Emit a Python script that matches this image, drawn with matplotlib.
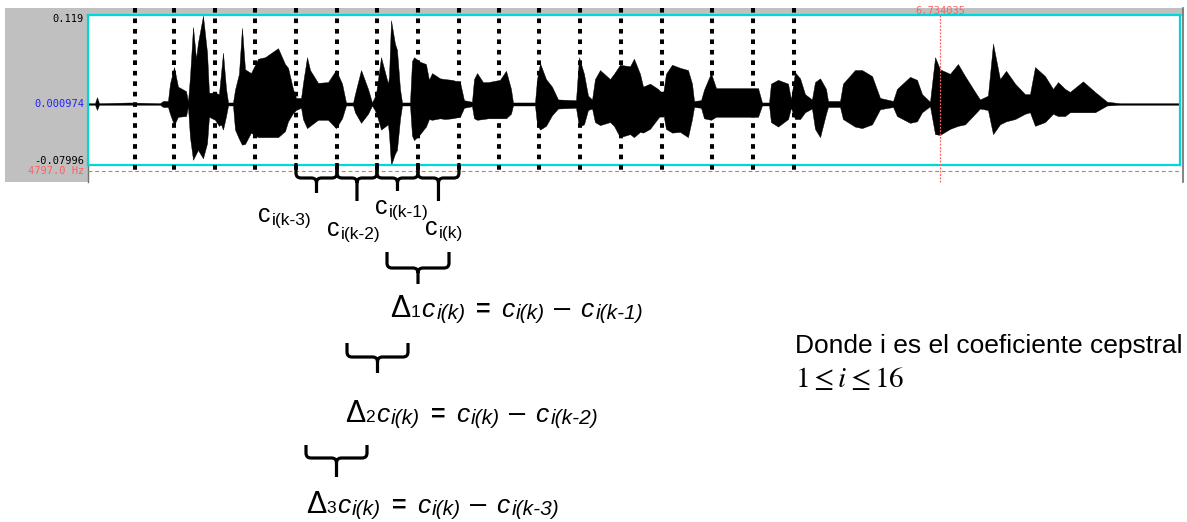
import numpy as np
import matplotlib
matplotlib.use("Agg")
import matplotlib.pyplot as plt
from matplotlib.path import Path
from matplotlib.patches import PathPatch, Rectangle

W, H, DPI = 1187, 522, 100

# speech envelope: time (s), peak above / below the DC level (V)
wave_t = [0.000, 0.055, 0.071, 0.087, 0.332, 0.569, 0.593, 0.632, 0.648, 0.680,
          0.711, 0.775, 0.790, 0.806, 0.830, 0.854, 0.869, 0.909, 0.941, 0.956,
          1.004, 1.035, 1.051, 1.067, 1.091, 1.107, 1.146, 1.162, 1.193, 1.217,
          1.241, 1.288, 1.344, 1.399, 1.502, 1.557, 1.581, 1.620, 1.644, 1.684,
          1.699, 1.731, 1.755, 1.818, 1.897, 1.960, 2.008, 2.039, 2.095, 2.110,
          2.158, 2.213, 2.245, 2.276, 2.316, 2.371, 2.379, 2.395, 2.426, 2.442,
          2.466, 2.482, 2.545, 2.561, 2.577, 2.624, 2.671, 2.695, 2.719, 2.782,
          2.822, 2.877, 2.940, 2.972, 3.035, 3.051, 3.075, 3.122, 3.162, 3.256,
          3.304, 3.343, 3.359, 3.533, 3.549, 3.573, 3.620, 3.667, 3.715, 3.857,
          3.881, 3.920, 3.952, 3.984, 4.007, 4.047, 4.126, 4.157, 4.205, 4.284,
          4.315, 4.363, 4.387, 4.442, 4.505, 4.545, 4.568, 4.616, 4.679, 4.742,
          4.774, 4.790, 4.845, 4.869, 4.924, 4.964, 5.153, 5.296, 5.327, 5.383,
          5.398, 5.454, 5.533, 5.556, 5.588, 5.628, 5.667, 5.722, 5.746, 5.786,
          5.833, 5.849, 5.944, 5.967, 6.062, 6.118, 6.197, 6.260, 6.363, 6.394,
          6.497, 6.552, 6.592, 6.655, 6.695, 6.734, 6.813, 6.876, 6.932, 7.011,
          7.050, 7.113, 7.153, 7.208, 7.256, 7.327, 7.406, 7.445, 7.485, 7.564,
          7.627, 7.667, 7.722, 7.761, 7.864, 7.959, 8.054, 8.157, 8.631]
wave_up = [0.001, 0.001, 0.009, 0.001, 0.002, 0.001, 0.004, 0.004, 0.027, 0.049,
           0.023, 0.017, 0.003, 0.036, 0.102, 0.060, 0.081, 0.117, 0.068, 0.015,
           0.015, 0.013, 0.040, 0.068, 0.020, 0.002, 0.002, 0.019, 0.040, 0.101,
           0.046, 0.041, 0.060, 0.062, 0.074, 0.053, 0.048, 0.020, 0.008, 0.008,
           0.027, 0.062, 0.045, 0.028, 0.029, 0.045, 0.027, 0.002, 0.002, 0.013,
           0.045, 0.020, 0.002, 0.013, 0.062, 0.027, 0.036, 0.111, 0.080, 0.072,
           0.020, 0.002, 0.002, 0.057, 0.062, 0.056, 0.053, 0.032, 0.041, 0.034,
           0.033, 0.032, 0.029, 0.005, 0.003, 0.033, 0.041, 0.029, 0.029, 0.032,
           0.044, 0.020, 0.002, 0.002, 0.033, 0.054, 0.033, 0.023, 0.006, 0.005,
           0.062, 0.040, 0.011, 0.006, 0.033, 0.045, 0.033, 0.040, 0.052, 0.050,
           0.060, 0.040, 0.023, 0.027, 0.020, 0.013, 0.040, 0.052, 0.048, 0.045,
           0.027, 0.004, 0.005, 0.019, 0.041, 0.021, 0.021, 0.021, 0.002, 0.002,
           0.027, 0.032, 0.027, 0.006, 0.042, 0.034, 0.013, 0.006, 0.029, 0.034,
           0.020, 0.004, 0.004, 0.027, 0.045, 0.045, 0.037, 0.008, 0.004, 0.020,
           0.036, 0.032, 0.013, 0.003, 0.062, 0.046, 0.040, 0.053, 0.037, 0.016,
           0.006, 0.011, 0.080, 0.033, 0.044, 0.027, 0.013, 0.013, 0.049, 0.037,
           0.020, 0.029, 0.020, 0.016, 0.030, 0.016, 0.003, 0.001, 0.001]
wave_dn = [0.001, 0.001, 0.008, 0.001, 0.001, 0.001, 0.004, 0.004, 0.013, 0.028,
           0.017, 0.016, 0.003, 0.044, 0.074, 0.066, 0.061, 0.072, 0.052, 0.017,
           0.021, 0.029, 0.027, 0.034, 0.016, 0.002, 0.002, 0.034, 0.046, 0.054,
           0.053, 0.038, 0.044, 0.044, 0.044, 0.036, 0.023, 0.012, 0.008, 0.005,
           0.020, 0.032, 0.029, 0.021, 0.021, 0.032, 0.019, 0.002, 0.002, 0.011,
           0.025, 0.013, 0.002, 0.011, 0.034, 0.027, 0.040, 0.081, 0.066, 0.061,
           0.020, 0.002, 0.002, 0.042, 0.048, 0.040, 0.030, 0.020, 0.021, 0.019,
           0.020, 0.019, 0.017, 0.005, 0.003, 0.019, 0.021, 0.020, 0.019, 0.019,
           0.019, 0.013, 0.002, 0.002, 0.027, 0.034, 0.029, 0.015, 0.006, 0.005,
           0.030, 0.027, 0.008, 0.006, 0.024, 0.028, 0.024, 0.029, 0.044, 0.040,
           0.044, 0.037, 0.038, 0.033, 0.019, 0.011, 0.033, 0.038, 0.037, 0.044,
           0.020, 0.004, 0.005, 0.019, 0.021, 0.017, 0.017, 0.017, 0.002, 0.002,
           0.024, 0.030, 0.020, 0.005, 0.020, 0.020, 0.011, 0.006, 0.033, 0.044,
           0.013, 0.004, 0.004, 0.020, 0.030, 0.032, 0.027, 0.007, 0.004, 0.016,
           0.025, 0.023, 0.011, 0.003, 0.040, 0.041, 0.033, 0.029, 0.027, 0.013,
           0.006, 0.008, 0.040, 0.027, 0.023, 0.020, 0.013, 0.011, 0.029, 0.024,
           0.013, 0.016, 0.016, 0.011, 0.011, 0.011, 0.002, 0.001, 0.001]

dc = 0.000974
amp_max, amp_min = 0.119, -0.07996
t_end = 8.631
cursor_t = 6.734035
band_hz = "4797.0 Hz"

# analysis frame boundaries (s)
frame_t = [0.371, 0.680, 1.004, 1.320, 1.644, 1.968, 2.284, 2.608, 2.932,
           3.248, 3.565, 3.889, 4.213, 4.537, 4.932, 5.256, 5.580]
# the four frames k-3 .. k sit between boundaries 4..8
braced = [4, 5, 6, 7, 8]
frame_names = ["k-3", "k-2", "k-1", "k"]
lags = [1, 2, 3]

plt.rcParams["font.family"] = ["Liberation Sans", "DejaVu Sans"]

fig = plt.figure(figsize=(W / DPI, H / DPI), dpi=DPI)
renderer = fig.canvas.get_renderer()

GREY = "#c0c0c0"
CYAN = "#00d8d8"
RED = "#ff6060"
MONO = "DejaVu Sans Mono"

# background chrome of the editor window, in pixel units
bg = fig.add_axes([0, 0, 1, 1], zorder=0)
bg.set_xlim(0, W)
bg.set_ylim(H, 0)
bg.axis("off")
bg.add_patch(Rectangle((5, 8), 83, 174, color=GREY, lw=0))
bg.add_patch(Rectangle((5, 8), 1178, 8, color=GREY, lw=0))
bg.plot([1182.5, 1182.5], [8, 182], color="#707070", lw=1.2)
bg.plot([87.5, 87.5], [165, 182], color="#707070", lw=1.0)

# waveform panel
x0, x1, ytop, ybot = 88, 1180, 15, 165
ax = fig.add_axes([x0 / W, 1 - ybot / H, (x1 - x0) / W, (ybot - ytop) / H], zorder=1)
ax.set_xlim(0, t_end)
ax.set_ylim(amp_min, amp_max)
ax.set_xticks([])
ax.set_yticks([])
for s in ax.spines.values():
    s.set_color(CYAN)
    s.set_linewidth(1.6)

t = np.array(wave_t)
hi = dc + np.array(wave_up)
lo = dc - np.array(wave_dn)
ax.fill_between(t, lo, hi, color="black", lw=0.3, zorder=2)
ax.axhline(dc, color="black", lw=0.5, zorder=2)

xt = ax.get_xaxis_transform()
fl = ax.vlines(frame_t, 1.047, -0.033, transform=xt, colors="black", lw=2.9,
               linestyles=[(0, (1.15, 1.45))], clip_on=False, zorder=3)
fl.set_capstyle("butt")

ax.plot([0, 1.003], [-0.04, -0.04], transform=ax.transAxes, color=RED, lw=0.8,
        dashes=(3.5, 2.5), clip_on=False)
ax.plot([cursor_t, cursor_t], [1.0, -0.113], transform=xt, color=RED, lw=0.9,
        dashes=(1.5, 1.2), clip_on=False, zorder=4)
ax.text(cursor_t, 1.028, f"{cursor_t:.6f}", transform=xt, ha="center", va="center",
        color=RED, fontsize=7.5, family=MONO)

# overlay for scale labels, braces and formulas (1 unit = 1 px)
ov = fig.add_axes([0, 0, 1, 1], zorder=2)
ov.set_xlim(0, W)
ov.set_ylim(H, 0)
ov.axis("off")
ov.patch.set_alpha(0)


def to_px(sec):
    return x0 + sec / t_end * (x1 - x0)


def to_py(v):
    return ybot - (v - amp_min) / (amp_max - amp_min) * (ybot - ytop)


lab = dict(ha="right", va="center", fontsize=7.5, family=MONO)
ov.text(84, to_py(amp_max) + 4, f"{amp_max:g}", color="black", **lab)
ov.text(84, to_py(dc), f"{dc:.6f}", color="#2020ff", **lab)
ov.text(84, to_py(amp_min) - 4, f"{amp_min:g}", color="black", **lab)
ov.text(84, 171, band_hz, color=RED, **lab)


def brace(xa, xb, ya, yf, yt, r=5, lw=2.3):
    xm = (xa + xb) / 2
    verts = [(xa, ya), (xa, yf - r), (xa, yf), (xa + r, yf), (xm - r, yf), (xm, yf), (xm, yf + r),
             (xm, yt),
             (xb, ya), (xb, yf - r), (xb, yf), (xb - r, yf), (xm + r, yf), (xm, yf), (xm, yf + r)]
    codes = [Path.MOVETO, Path.LINETO, Path.CURVE3, Path.CURVE3, Path.LINETO, Path.CURVE3,
             Path.CURVE3, Path.LINETO,
             Path.MOVETO, Path.LINETO, Path.CURVE3, Path.CURVE3, Path.LINETO, Path.CURVE3,
             Path.CURVE3]
    ov.add_patch(PathPatch(Path(verts, codes), fill=False, lw=lw, ec="black",
                           capstyle="butt", joinstyle="round"))


def run_text(x, y, parts):
    # parts: (text, size, italic, drop, gap) laid out left to right
    for txt, size, italic, drop, gap in parts:
        x += gap
        weight = "bold" if txt == "=" else "normal"
        tx = ov.text(x, y + drop, txt, fontsize=size, ha="left", va="baseline",
                     style="italic" if italic else "normal", weight=weight)
        x += tx.get_window_extent(renderer).width


# one brace per frame, stems alternating in length
tips = [193, 201, 191, 201]
for j in range(4):
    xa = to_px(frame_t[braced[j]])
    xb = to_px(frame_t[braced[j + 1]])
    brace(xa, xb, 163, 178, tips[j])

# frame labels
lbl_pos = [(258, 222), (327, 236), (375, 214), (425, 235)]
for name, (lx, ly) in zip(frame_names, lbl_pos):
    run_text(lx, ly, [("c", 18, False, 0, 0), (f"i({name})", 12.5, False, 3, 1)])

# delta braces and formulas
brace(387, 449, 252, 268, 284)
brace(347, 408, 343, 357, 373)
brace(306, 367, 445, 458, 477)

form_pos = [(390, 317), (345, 422), (306, 513)]
for n, (fx, fy) in zip(lags, form_pos):
    run_text(fx, fy, [
        ("\u0394", 22, False, 0, 0), (str(n), 12.5, False, 0, 0),
        ("c", 19, True, 0, 1), ("i(k)", 15, True, 2, 2),
        ("=", 18, False, 0, 11),
        ("c", 19, True, 0, 10), ("i(k)", 15, True, 2, 2),
        ("\u2013", 21, False, 0, 9),
        ("c", 19, True, 0, 10), (f"i(k-{n})", 15, True, 2, 2),
    ])

ov.text(795, 353, "Donde i es el coeficiente cepstral", fontsize=19,
        ha="left", va="baseline")
ov.text(795, 387, r"$1 \leq i \leq 16$", fontsize=21, ha="left", va="baseline",
        math_fontfamily="stix")

fig.savefig("out.png", dpi=DPI)
